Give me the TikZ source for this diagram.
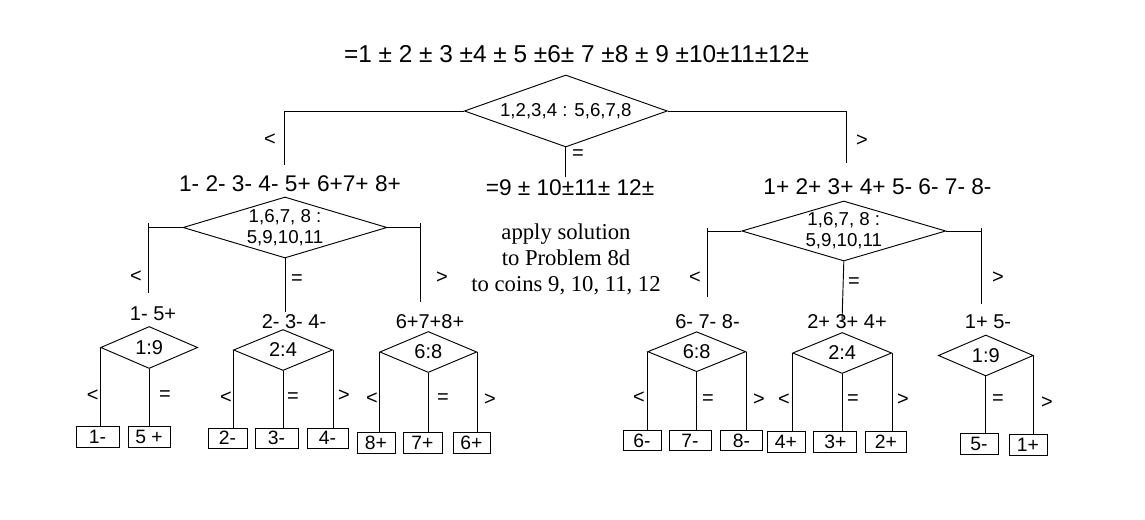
\documentclass[tikz,border=0pt]{standalone}
\usepackage{fontspec}
\setmainfont{Liberation Sans}
\newfontfamily\serifface{Liberation Serif}
\usetikzlibrary{shapes.geometric}
\begin{document}
\begin{tikzpicture}[x=0.75pt,y=-0.75pt,
  ln/.style={line width=0.7pt},
  dia/.style n args={3}{diamond, draw, line width=0.7pt, inner sep=0pt, aspect=#3,
     minimum width=#1*0.75pt, minimum height=#2*0.75pt, align=center},
  dtxt/.style={font=\fontsize{14}{15.75}\selectfont},
  d3txt/.style={font=\fontsize{15}{16}\selectfont},
  leaf/.style 2 args={draw, line width=0.7pt, inner sep=0pt,
     minimum width=#1*0.75pt, minimum height=#2*0.75pt, font=\fontsize{14.5}{16}\selectfont},
  rel/.style={inner sep=0pt, font=\fontsize{15}{16}\selectfont},
  toptxt/.style={inner sep=0pt, font=\fontsize{18.3}{20}\selectfont},
  grp/.style={inner sep=0pt, font=\fontsize{17}{19}\selectfont},
  grp3/.style={inner sep=0pt, font=\fontsize{15}{17}\selectfont},
  note/.style={inner sep=0pt, align=center, font=\serifface\fontsize{17}{19.5}\selectfont},
]
\useasboundingbox (0,0) rectangle (1145,520);

% ---- level 1
\node[toptxt] (top) at (576.5,54) {=1 ± 2 ± 3 ±4 ± 5 ±6± 7 ±8 ± 9 ±10±11±12±};
\node[dia={203}{72}{2.82}, dtxt] (d1) at (565.8,111) {1,2,3,4 : 5,6,7,8};
\coordinate (d1l) at (284.6,165);
\coordinate (d1r) at (846,163);
\coordinate (d1m) at (565.8,177);
\draw[ln] (d1.west) -| (d1l);
\draw[ln] (d1.east) -| (d1r);
\draw[ln] (d1.south) -- (d1m);
\node[rel] (r1l) at (270,140) {<};
\node[rel] (r1m) at (578,155) {=};
\node[rel] (r1r) at (862,141) {>};

% ---- level 2 texts
\node[grp] (g2l) at (290,184) {1- 2- 3- 4- 5+ 6+7+ 8+};
\node[grp] (g2m) at (570,188) {=9 ± 10±11± 12±};
\node[grp] (g2r) at (877.5,187) {1+ 2+ 3+ 4+ 5- 6- 7- 8-};
\node[note] (apply) at (566,259) {apply solution\\to Problem 8d\\to coins 9, 10, 11, 12};

% ---- level 2 left diamond
\node[dia={204}{61}{3.34}, dtxt] (d2l) at (285,227.5) {1,6,7, 8 :\\5,9,10,11};
\coordinate (d2lLt) at (148,223);
\coordinate (d2lLb) at (148,293);
\coordinate (d2lRt) at (420,223);
\coordinate (d2lRb) at (420,302);
\coordinate (d2lM) at (285,312);
\draw[ln] (d2l.west) -- (d2l.west -| d2lLt);
\draw[ln] (d2lLt) -- (d2lLb);
\draw[ln] (d2l.east) -- (d2l.east -| d2lRt);
\draw[ln] (d2lRt) -- (d2lRb);
\draw[ln] (d2l.south) -- (d2lM);
\node[rel] (r2ll) at (136,277) {<};
\node[rel] (r2lm) at (297,280) {=};
\node[rel] (r2lr) at (442,278) {>};

% ---- level 2 right diamond
\node[dia={204}{60}{3.4}, dtxt] (d2r) at (843.8,231) {1,6,7, 8 :\\5,9,10,11};
\coordinate (d2rLt) at (707.7,228);
\coordinate (d2rLb) at (707.7,296.7);
\coordinate (d2rRt) at (981.7,228);
\coordinate (d2rRb) at (981.7,304);
\coordinate (d2rM) at (842,321.7);
\draw[ln] (d2r.west) -- (d2r.west -| d2rLt);
\draw[ln] (d2rLt) -- (d2rLb);
\draw[ln] (d2r.east) -- (d2r.east -| d2rRt);
\draw[ln] (d2rRt) -- (d2rRb);
\draw[ln] (d2r.south) -- (d2rM);
\node[rel] (r2rl) at (695,278) {<};
\node[rel] (r2rm) at (854,283) {=};
\node[rel] (r2rr) at (998,278) {>};

% ---- level 3 labels
\node[grp3] (g3a) at (153,314) {1- 5+};
\node[grp3] (g3b) at (294,322) {2- 3- 4-};
\node[grp3] (g3c) at (430,322) {6+7+8+};
\node[grp3] (g3d) at (707.5,322) {6- 7- 8-};
\node[grp3] (g3e) at (847,322) {2+ 3+ 4+};
\node[grp3] (g3f) at (988,322) {1+ 5-};

% ---- level 3 diamonds
\node[dia={97}{42}{2.31}, d3txt] (d3a) at (149.2,347.5) {1:9};
\node[dia={99}{41}{2.41}, d3txt] (d3b) at (283,350) {2:4};
\node[dia={97}{41}{2.37}, d3txt] (d3c) at (428.3,352) {6:8};
\node[dia={98}{40}{2.45}, d3txt] (d3d) at (696.7,351.7) {6:8};
\node[dia={99}{41}{2.41}, d3txt] (d3e) at (842.2,353) {2:4};
\node[dia={95}{41}{2.32}, d3txt] (d3f) at (985.8,355.5) {1:9};

% ---- leaves
\node[leaf={43}{21}] (L1) at (97.5,436.5) {1-};
\node[leaf={42}{21}] (L2) at (149,436.5) {5 +};
\node[leaf={39}{20}] (L3) at (227.5,438) {2-};
\node[leaf={43}{20}] (L4) at (276.5,438) {3-};
\node[leaf={41}{20}] (L5) at (327.5,438) {4-};
\node[leaf={38}{21}] (L6) at (376,442.5) {8+};
\node[leaf={39}{21}] (L7) at (422.5,442.5) {7+};
\node[leaf={37}{21}] (L8) at (471.5,442.5) {6+};
\node[leaf={38}{20}] (R1) at (642,440.7) {6-};
\node[leaf={42}{20}] (R2) at (690,440.7) {7-};
\node[leaf={41.6}{20}] (R3) at (741.5,440.7) {8-};
\node[leaf={38}{20.6}] (R4) at (786,442) {4+};
\node[leaf={42.7}{20.6}] (R5) at (835.3,442) {3+};
\node[leaf={41.7}{20.6}] (R6) at (886,442) {2+};
\node[leaf={38}{21}] (R7) at (979,443.5) {5-};
\node[leaf={38}{21}] (R8) at (1028,444.5) {1+};

% ---- level 3 connectors
\draw[ln] (d3a.west) -- (d3a.west |- L1.north);
\draw[ln] (d3a.south) -- (d3a.south |- L2.north);
\draw[ln] (d3b.west) -- (d3b.west |- L3.north);
\draw[ln] (d3b.south) -- (d3b.south |- L4.north);
\draw[ln] (d3b.east) -- (d3b.east |- L5.north);
\draw[ln] (d3c.west) -- (d3c.west |- L6.north);
\draw[ln] (d3c.south) -- (d3c.south |- L7.north);
\draw[ln] (d3c.east) -- (d3c.east |- L8.north);
\draw[ln] (d3d.west) -- (d3d.west |- R1.north);
\draw[ln] (d3d.south) -- (d3d.south |- R2.north);
\draw[ln] (d3d.east) -- (d3d.east |- R3.north);
\draw[ln] (d3e.west) -- (d3e.west |- R4.north);
\draw[ln] (d3e.south) -- (d3e.south |- R5.north);
\draw[ln] (d3e.east) -- (d3e.east |- R6.north);
\draw[ln] (d3f.south) -- (d3f.south |- R7.north);
\draw[ln] (d3f.east) -- (d3f.east |- R8.north);

% ---- level 3 relation labels
\node[rel] (s1) at (92.7,396) {<};
\node[rel] (s2) at (165,396) {=};
\node[rel] (s3) at (226,398) {<};
\node[rel] (s4) at (293,398) {=};
\node[rel] (s5) at (344,396) {>};
\node[rel] (s6) at (372,399) {<};
\node[rel] (s7) at (443,399) {=};
\node[rel] (s8) at (490,400) {>};
\node[rel] (s9) at (639,398) {<};
\node[rel] (s10) at (708,400) {=};
\node[rel] (s11) at (759,400) {>};
\node[rel] (s12) at (784,400) {<};
\node[rel] (s13) at (853,400) {=};
\node[rel] (s14) at (903,400) {>};
\node[rel] (s15) at (998,400) {=};
\node[rel] (s16) at (1047,403) {>};
\end{tikzpicture}
\end{document}
